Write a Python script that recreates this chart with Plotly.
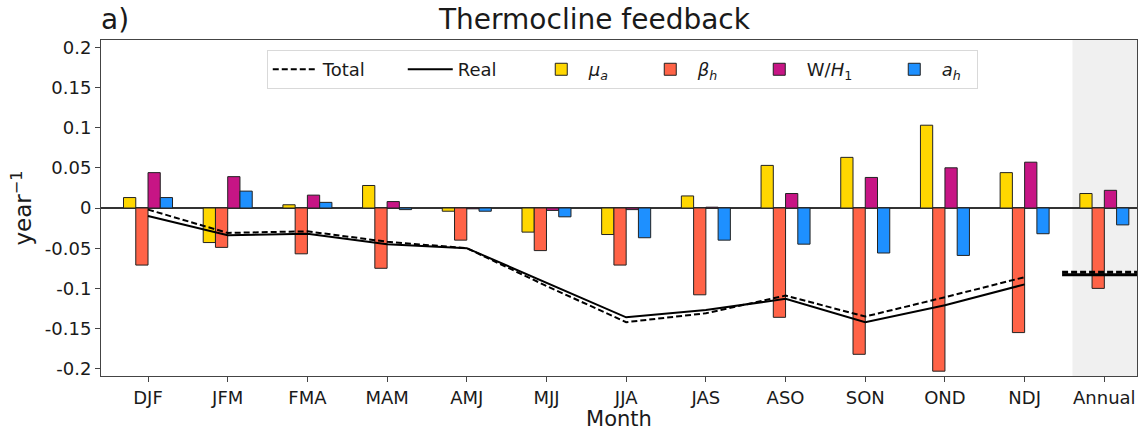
import plotly.graph_objects as go

months = ["DJF", "JFM", "FMA", "MAM", "AMJ", "MJJ", "JJA", "JAS", "ASO", "SON", "OND", "NDJ", "Annual"]
mu_a = [0.013, -0.043, 0.004, 0.028, -0.004, -0.030, -0.033, 0.015, 0.053, 0.063, 0.103, 0.044, 0.018]
beta_h = [-0.071, -0.049, -0.057, -0.075, -0.040, -0.053, -0.071, -0.108, -0.136, -0.182, -0.203, -0.155, -0.100]
w_h1 = [0.044, 0.039, 0.016, 0.008, -0.001, -0.003, -0.002, 0.001, 0.018, 0.038, 0.050, 0.057, 0.022]
a_h = [0.013, 0.021, 0.007, -0.002, -0.004, -0.011, -0.037, -0.040, -0.045, -0.056, -0.059, -0.032, -0.021]
total = [-0.002, -0.031, -0.029, -0.042, -0.050, -0.097, -0.142, -0.131, -0.109, -0.135, -0.111, -0.086]
real = [-0.010, -0.034, -0.032, -0.045, -0.050, -0.093, -0.136, -0.127, -0.113, -0.142, -0.121, -0.095]
annual_total = -0.080
annual_real = -0.083
ytick_vals = [-0.2, -0.15, -0.1, -0.05, 0, 0.05, 0.1, 0.15, 0.2]
ytick_text = ["-0.2", "-0.15", "-0.1", "-0.05", "0", "0.05", "0.1", "0.15", "0.2"]

xi = list(range(len(months)))
xm = xi[:len(total)]

fig = go.Figure()

fig.add_trace(go.Scatter(x=xm, y=total, mode="lines", name="Total",
                         line=dict(color="black", width=2, dash="6px,3px"), legendwidth=75))
fig.add_trace(go.Scatter(x=xm, y=real, mode="lines", name="Real",
                         line=dict(color="black", width=2), legendwidth=71))

bar_specs = [
    (mu_a, "<i>μ<sub>a</sub></i>", "#FFD700", 49),
    (beta_h, "<i>β<sub>h</sub></i>", "#FF6347", 49),
    (w_h1, "W/<i>H</i><sub>1</sub>", "#C71585", 75),
    (a_h, "<i>a<sub>h</sub></i>", "#1E90FF", 30),
]
for vals, nm, col, lw in bar_specs:
    fig.add_trace(go.Bar(x=xi, y=vals, name=nm, marker=dict(color=col, line=dict(color="#222", width=1)),
                         legendwidth=lw))

fig.add_trace(go.Scatter(x=[11.47, 12.6], y=[annual_real, annual_real], mode="lines", showlegend=False,
                         line=dict(color="black", width=3)))
fig.add_trace(go.Scatter(x=[11.47, 12.6], y=[annual_total, annual_total], mode="lines", showlegend=False,
                         line=dict(color="black", width=3, dash="6px,3px")))

fig.add_shape(type="rect", xref="x", yref="paper", x0=11.6, x1=12.41, y0=0, y1=1,
              fillcolor="#f0f0f0", line=dict(width=0), layer="below")

fig.update_layout(
    width=1143, height=431,
    margin=dict(l=101, r=6, t=40, b=55),
    plot_bgcolor="white", paper_bgcolor="white",
    barmode="group", bargap=0.385, bargroupgap=0,
    font=dict(family="DejaVu Sans", color="#1a1a1a", size=18),
    legend=dict(orientation="h", x=0.16, y=0.97, xanchor="left", yanchor="top",
                font=dict(size=18), bordercolor="#d9d9d9", borderwidth=1, itemwidth=45,
                bgcolor="rgba(255,255,255,0.85)"),
    annotations=[
        dict(text="a)", xref="paper", yref="paper", x=-0.002, y=1.06, xanchor="left", yanchor="middle",
             showarrow=False, font=dict(size=28)),
        dict(text="Thermocline feedback", xref="paper", yref="paper", x=0.476, y=1.06,
             xanchor="center", yanchor="middle", showarrow=False, font=dict(size=28)),
    ],
)

fig.update_xaxes(range=[-0.59, 12.41], tickvals=xi, ticktext=months, ticks="outside", ticklen=5,
                 tickcolor="#444", showline=True, linecolor="#444", linewidth=1, mirror=True,
                 showgrid=False, zeroline=False, title=dict(text="Month", font=dict(size=21), standoff=4))
fig.update_yaxes(range=[-0.209, 0.209], tickvals=ytick_vals, ticktext=ytick_text, ticks="outside", ticklen=5,
                 tickcolor="#444", showline=True, linecolor="#444", linewidth=1, mirror=True,
                 showgrid=False, zeroline=True, zerolinecolor="#333", zerolinewidth=1.5,
                 title=dict(text="year<sup>−1</sup>", font=dict(size=23), standoff=6))

fig.write_html("out.html")
